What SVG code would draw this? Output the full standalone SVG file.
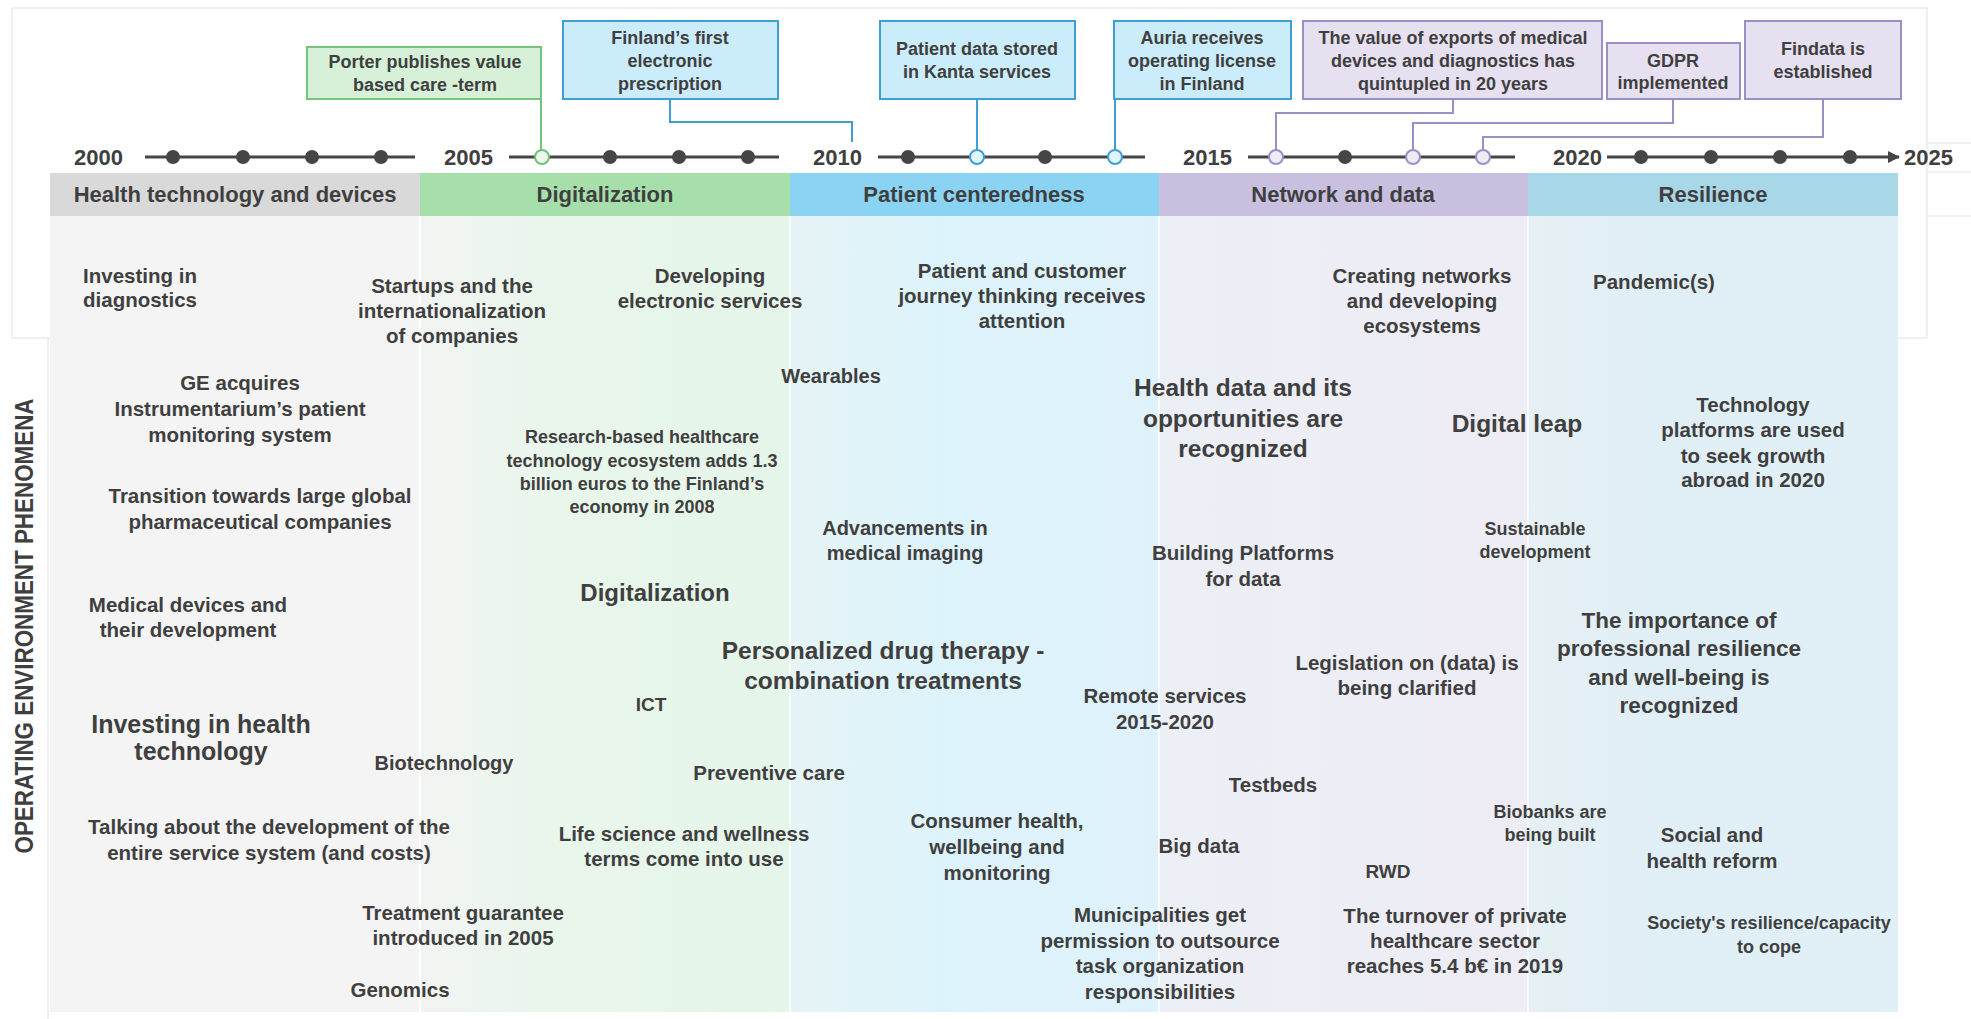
<svg xmlns="http://www.w3.org/2000/svg" width="1971" height="1019" viewBox="0 0 1971 1019">
  <defs>
    <linearGradient id="gCol2" x1="0" y1="0" x2="1" y2="0">
      <stop offset="0" stop-color="#f2f4f2"/>
      <stop offset="0.4" stop-color="#e8f6eb"/>
      <stop offset="1" stop-color="#e6f5ea"/>
    </linearGradient>
    <linearGradient id="gCol3" x1="0" y1="0" x2="1" y2="0">
      <stop offset="0" stop-color="#e6f4f5"/>
      <stop offset="0.4" stop-color="#ddf3fb"/>
      <stop offset="1" stop-color="#dff2fb"/>
    </linearGradient>
    <linearGradient id="gCol4" x1="0" y1="0" x2="1" y2="0">
      <stop offset="0" stop-color="#eceff6"/>
      <stop offset="1" stop-color="#eeecf5"/>
    </linearGradient>
    <linearGradient id="gCol5" x1="0" y1="0" x2="1" y2="0">
      <stop offset="0" stop-color="#e6f0f4"/>
      <stop offset="0.35" stop-color="#e0eff6"/>
      <stop offset="1" stop-color="#e1f0f6"/>
    </linearGradient>
    <marker id="arrowEnd" viewBox="0 0 12 12" refX="11" refY="6" markerWidth="12" markerHeight="12" markerUnits="userSpaceOnUse" orient="auto">
      <path d="M0,0 L12,6 L0,12 Z" fill="#444"/>
    </marker>
  </defs>
  <style>
    .t { font-family: "Liberation Sans", Arial, sans-serif; font-weight: 700; fill: #3f3f3f; text-anchor: middle; }
    .yr { font-size: 22px; text-anchor: start; }
    .hd { font-size: 22px; }
    .s18 { font-size: 18px; }
    .s19 { font-size: 19px; }
    .s20 { font-size: 20px; }
    .s205 { font-size: 20.5px; }
    .s225 { font-size: 22.5px; }
    .s24 { font-size: 24px; }
    .s245 { font-size: 24.5px; }
    .s25 { font-size: 25px; }
    .frame { fill: none; stroke: #e6e6e6; stroke-width: 1.2; }
    .axis { stroke: #454545; stroke-width: 3; fill: none; }
    .dot { fill: #454545; }
    .open-g { fill: #eef9ee; stroke: #72c276; stroke-width: 2; }
    .open-b { fill: #e2f4fc; stroke: #3f9fd2; stroke-width: 2; }
    .open-p { fill: #efebf7; stroke: #9b8fc5; stroke-width: 2; }
    .box-g { fill: #d6f1d7; stroke: #76c47a; stroke-width: 2; }
    .box-b { fill: #cbedfb; stroke: #3f9fd2; stroke-width: 2; }
    .box-p { fill: #e6e0f1; stroke: #9b8fc5; stroke-width: 2; }
    .ln-g { stroke: #76c47a; stroke-width: 2; fill: none; }
    .ln-b { stroke: #3f9fd2; stroke-width: 2; fill: none; }
    .ln-p { stroke: #9b8fc5; stroke-width: 2; fill: none; }
    .sep { stroke: #ffffff; stroke-width: 2; opacity: 0.75; }
  </style>

  <rect x="0" y="0" width="1971" height="1019" fill="#ffffff"/>

  <!-- outer frames -->
  <g id="frames">
    <rect class="frame" x="12" y="8" width="1915" height="330"/>
    <line class="frame" x1="48" y1="338" x2="48" y2="1019"/>
    <line class="frame" x1="1927" y1="143" x2="1971" y2="143"/>
    <line class="frame" x1="1927" y1="172" x2="1971" y2="172"/>
    <line class="frame" x1="1927" y1="216" x2="1971" y2="216"/>
  </g>

  <!-- column backgrounds -->
  <g id="columns">
    <rect x="50" y="216" width="370" height="796" fill="#f4f4f4"/>
    <rect x="420" y="216" width="370" height="796" fill="url(#gCol2)"/>
    <rect x="790" y="216" width="369" height="796" fill="url(#gCol3)"/>
    <rect x="1159" y="216" width="369" height="796" fill="url(#gCol4)"/>
    <rect x="1528" y="216" width="370" height="796" fill="url(#gCol5)"/>
    <line class="sep" x1="420" y1="173" x2="420" y2="1012"/>
    <line class="sep" x1="790" y1="173" x2="790" y2="1012"/>
    <line class="sep" x1="1159" y1="173" x2="1159" y2="1012"/>
    <line class="sep" x1="1528" y1="173" x2="1528" y2="1012"/>
  </g>

  <!-- era header bands -->
  <g id="era-health-technology">
    <rect x="50" y="173" width="370" height="43" fill="#d9d9d9"/>
    <text class="t hd" x="235" y="202">Health technology and devices</text>
  </g>
  <g id="era-digitalization">
    <rect x="420" y="173" width="370" height="43" fill="#a6dfaa"/>
    <text class="t hd" x="605" y="202">Digitalization</text>
  </g>
  <g id="era-patient-centeredness">
    <rect x="790" y="173" width="369" height="43" fill="#8bd3f3"/>
    <text class="t hd" x="974" y="202">Patient centeredness</text>
  </g>
  <g id="era-network-data">
    <rect x="1159" y="173" width="369" height="43" fill="#c9c0df"/>
    <text class="t hd" x="1343" y="202">Network and data</text>
  </g>
  <g id="era-resilience">
    <rect x="1528" y="173" width="370" height="43" fill="#a8d8e7"/>
    <text class="t hd" x="1713" y="202">Resilience</text>
  </g>

  <!-- timeline axis -->
  <g id="timeline">
    <line class="axis" x1="145" y1="157" x2="415" y2="157"/>
    <line class="axis" x1="509" y1="157" x2="779" y2="157"/>
    <line class="axis" x1="878" y1="157" x2="1145" y2="157"/>
    <line class="axis" x1="1248" y1="157" x2="1515" y2="157"/>
    <line class="axis" x1="1607" y1="157" x2="1899" y2="157" marker-end="url(#arrowEnd)"/>
    <text class="t yr" x="74" y="165">2000</text>
    <text class="t yr" x="444" y="165">2005</text>
    <text class="t yr" x="813" y="165">2010</text>
    <text class="t yr" x="1183" y="165">2015</text>
    <text class="t yr" x="1553" y="165">2020</text>
    <text class="t yr" x="1904" y="165">2025</text>
    <circle class="dot" cx="173" cy="157" r="7"/>
    <circle class="dot" cx="243" cy="157" r="7"/>
    <circle class="dot" cx="312" cy="157" r="7"/>
    <circle class="dot" cx="381" cy="157" r="7"/>
    <circle class="dot" cx="610" cy="157" r="7"/>
    <circle class="dot" cx="679" cy="157" r="7"/>
    <circle class="dot" cx="748" cy="157" r="7"/>
    <circle class="dot" cx="908" cy="157" r="7"/>
    <circle class="dot" cx="1045" cy="157" r="7"/>
    <circle class="dot" cx="1345" cy="157" r="7"/>
    <circle class="dot" cx="1641" cy="157" r="7"/>
    <circle class="dot" cx="1711" cy="157" r="7"/>
    <circle class="dot" cx="1780" cy="157" r="7"/>
    <circle class="dot" cx="1850" cy="157" r="7"/>
  </g>

  <!-- connectors from event boxes to the timeline -->
  <g id="connectors">
    <polyline class="ln-g" points="541,99 541,150"/>
    <polyline class="ln-b" points="670,99 670,122 852,122 852,142"/>
    <polyline class="ln-b" points="977,99 977,150"/>
    <polyline class="ln-b" points="1115,99 1115,150"/>
    <polyline class="ln-p" points="1453,99 1453,113 1276,113 1276,150"/>
    <polyline class="ln-p" points="1673,99 1673,123 1413,123 1413,150"/>
    <polyline class="ln-p" points="1823,99 1823,137 1483,137 1483,150"/>
  </g>

  <!-- event markers on the axis -->
  <g id="event-markers">
    <circle class="open-g" cx="542" cy="157" r="7"/>
    <circle class="open-b" cx="977" cy="157" r="7"/>
    <circle class="open-b" cx="1115" cy="157" r="7"/>
    <circle class="open-p" cx="1276" cy="157" r="7"/>
    <circle class="open-p" cx="1413" cy="157" r="7"/>
    <circle class="open-p" cx="1483" cy="157" r="7"/>
  </g>

  <!-- timeline events -->
  <g id="event-porter">
    <rect class="box-g" x="307" y="47" width="234" height="52"/>
    <text class="t s18"><tspan x="425" y="68">Porter publishes value</tspan><tspan x="425" y="91">based care -term</tspan></text>
  </g>
  <g id="event-e-prescription">
    <rect class="box-b" x="563" y="21" width="215" height="78"/>
    <text class="t s18"><tspan x="670" y="44">Finland’s first</tspan><tspan x="670" y="67">electronic</tspan><tspan x="670" y="90">prescription</tspan></text>
  </g>
  <g id="event-kanta">
    <rect class="box-b" x="880" y="21" width="195" height="78"/>
    <text class="t s18"><tspan x="977" y="55">Patient data stored</tspan><tspan x="977" y="78">in Kanta services</tspan></text>
  </g>
  <g id="event-auria">
    <rect class="box-b" x="1114" y="21" width="177" height="78"/>
    <text class="t s18"><tspan x="1202" y="44">Auria receives</tspan><tspan x="1202" y="67">operating license</tspan><tspan x="1202" y="90">in Finland</tspan></text>
  </g>
  <g id="event-exports">
    <rect class="box-p" x="1303" y="21" width="299" height="78"/>
    <text class="t s18"><tspan x="1453" y="44">The value of exports of medical</tspan><tspan x="1453" y="67">devices and diagnostics has</tspan><tspan x="1453" y="90">quintupled in 20 years</tspan></text>
  </g>
  <g id="event-gdpr">
    <rect class="box-p" x="1607" y="43" width="133" height="56"/>
    <text class="t s18"><tspan x="1673" y="67">GDPR</tspan><tspan x="1673" y="89">implemented</tspan></text>
  </g>
  <g id="event-findata">
    <rect class="box-p" x="1745" y="21" width="156" height="78"/>
    <text class="t s18"><tspan x="1823" y="55">Findata is</tspan><tspan x="1823" y="78">established</tspan></text>
  </g>

  <!-- side label -->
  <g id="axis-label">
    <text class="t" font-size="25" textLength="455" lengthAdjust="spacingAndGlyphs" transform="translate(33,626) rotate(-90)" x="0" y="0">OPERATING ENVIRONMENT PHENOMENA</text>
  </g>

  <!-- phenomena: health technology and devices -->
  <g id="ph-diagnostics"><text class="t s205"><tspan x="140" y="283">Investing in</tspan><tspan x="140" y="307">diagnostics</tspan></text></g>
  <g id="ph-startups"><text class="t s205"><tspan x="452" y="293">Startups and the</tspan><tspan x="452" y="318">internationalization</tspan><tspan x="452" y="343">of companies</tspan></text></g>
  <g id="ph-ge"><text class="t s205"><tspan x="240" y="390">GE acquires</tspan><tspan x="240" y="416">Instrumentarium’s patient</tspan><tspan x="240" y="442">monitoring system</tspan></text></g>
  <g id="ph-pharma"><text class="t s205"><tspan x="260" y="503">Transition towards large global</tspan><tspan x="260" y="529">pharmaceutical companies</tspan></text></g>
  <g id="ph-medical-devices"><text class="t s205"><tspan x="188" y="612">Medical devices and</tspan><tspan x="188" y="637">their development</tspan></text></g>
  <g id="ph-health-tech"><text class="t s25"><tspan x="201" y="733">Investing in health</tspan><tspan x="201" y="760">technology</tspan></text></g>
  <g id="ph-biotech"><text class="t s20" x="444" y="770">Biotechnology</text></g>
  <g id="ph-service-system"><text class="t s205"><tspan x="269" y="834">Talking about the development of the</tspan><tspan x="269" y="860">entire service system (and costs)</tspan></text></g>
  <g id="ph-treatment-guarantee"><text class="t s205"><tspan x="463" y="920">Treatment guarantee</tspan><tspan x="463" y="945">introduced in 2005</tspan></text></g>
  <g id="ph-genomics"><text class="t s205" x="400" y="997">Genomics</text></g>

  <!-- phenomena: digitalization -->
  <g id="ph-e-services"><text class="t s205"><tspan x="710" y="283">Developing</tspan><tspan x="710" y="308">electronic services</tspan></text></g>
  <g id="ph-research-ecosystem"><text class="t s18"><tspan x="642" y="443">Research-based healthcare</tspan><tspan x="642" y="467">technology ecosystem adds 1.3</tspan><tspan x="642" y="490">billion euros to the Finland’s</tspan><tspan x="642" y="513">economy in 2008</tspan></text></g>
  <g id="ph-digitalization"><text class="t s24" x="655" y="601">Digitalization</text></g>
  <g id="ph-ict"><text class="t s19" x="651" y="711">ICT</text></g>
  <g id="ph-preventive"><text class="t s205" x="769" y="780">Preventive care</text></g>
  <g id="ph-life-science"><text class="t s205"><tspan x="684" y="841">Life science and wellness</tspan><tspan x="684" y="866">terms come into use</tspan></text></g>

  <!-- phenomena: patient centeredness -->
  <g id="ph-journey"><text class="t s205"><tspan x="1022" y="278">Patient and customer</tspan><tspan x="1022" y="303">journey thinking receives</tspan><tspan x="1022" y="328">attention</tspan></text></g>
  <g id="ph-wearables"><text class="t s20" x="831" y="383">Wearables</text></g>
  <g id="ph-imaging"><text class="t s20"><tspan x="905" y="535">Advancements in</tspan><tspan x="905" y="560">medical imaging</tspan></text></g>
  <g id="ph-personalized"><text class="t s245"><tspan x="883" y="659">Personalized drug therapy -</tspan><tspan x="883" y="689">combination treatments</tspan></text></g>
  <g id="ph-consumer-health"><text class="t s205"><tspan x="997" y="828">Consumer health,</tspan><tspan x="997" y="854">wellbeing and</tspan><tspan x="997" y="880">monitoring</tspan></text></g>
  <g id="ph-remote"><text class="t s205"><tspan x="1165" y="703">Remote services</tspan><tspan x="1165" y="729">2015-2020</tspan></text></g>
  <g id="ph-municipalities"><text class="t s205"><tspan x="1160" y="922">Municipalities get</tspan><tspan x="1160" y="948">permission to outsource</tspan><tspan x="1160" y="973">task organization</tspan><tspan x="1160" y="999">responsibilities</tspan></text></g>

  <!-- phenomena: network and data -->
  <g id="ph-networks"><text class="t s205"><tspan x="1422" y="283">Creating networks</tspan><tspan x="1422" y="308">and developing</tspan><tspan x="1422" y="333">ecosystems</tspan></text></g>
  <g id="ph-health-data"><text class="t s245"><tspan x="1243" y="396">Health data and its</tspan><tspan x="1243" y="427">opportunities are</tspan><tspan x="1243" y="457">recognized</tspan></text></g>
  <g id="ph-platforms-data"><text class="t s205"><tspan x="1243" y="560">Building Platforms</tspan><tspan x="1243" y="586">for data</tspan></text></g>
  <g id="ph-legislation"><text class="t s205"><tspan x="1407" y="670">Legislation on (data) is</tspan><tspan x="1407" y="695">being clarified</tspan></text></g>
  <g id="ph-testbeds"><text class="t s205" x="1273" y="792">Testbeds</text></g>
  <g id="ph-big-data"><text class="t s205" x="1199" y="853">Big data</text></g>
  <g id="ph-rwd"><text class="t s19" x="1388" y="878">RWD</text></g>
  <g id="ph-turnover"><text class="t s205"><tspan x="1455" y="923">The turnover of private</tspan><tspan x="1455" y="948">healthcare sector</tspan><tspan x="1455" y="973">reaches 5.4 b€ in 2019</tspan></text></g>
  <g id="ph-digital-leap"><text class="t s245" x="1517" y="432">Digital leap</text></g>
  <g id="ph-sustainable"><text class="t s18"><tspan x="1535" y="535">Sustainable</tspan><tspan x="1535" y="558">development</tspan></text></g>
  <g id="ph-biobanks"><text class="t s18"><tspan x="1550" y="818">Biobanks are</tspan><tspan x="1550" y="841">being built</tspan></text></g>

  <!-- phenomena: resilience -->
  <g id="ph-pandemic"><text class="t s205" x="1654" y="289">Pandemic(s)</text></g>
  <g id="ph-tech-platforms"><text class="t s205"><tspan x="1753" y="412">Technology</tspan><tspan x="1753" y="437">platforms are used</tspan><tspan x="1753" y="463">to seek growth</tspan><tspan x="1753" y="487">abroad in 2020</tspan></text></g>
  <g id="ph-professional-resilience"><text class="t s225"><tspan x="1679" y="628">The importance of</tspan><tspan x="1679" y="656">professional resilience</tspan><tspan x="1679" y="685">and well-being is</tspan><tspan x="1679" y="713">recognized</tspan></text></g>
  <g id="ph-social-reform"><text class="t s205"><tspan x="1712" y="842">Social and</tspan><tspan x="1712" y="868">health reform</tspan></text></g>
  <g id="ph-society"><text class="t s18"><tspan x="1769" y="929">Society's resilience/capacity</tspan><tspan x="1769" y="953">to cope</tspan></text></g>
</svg>
